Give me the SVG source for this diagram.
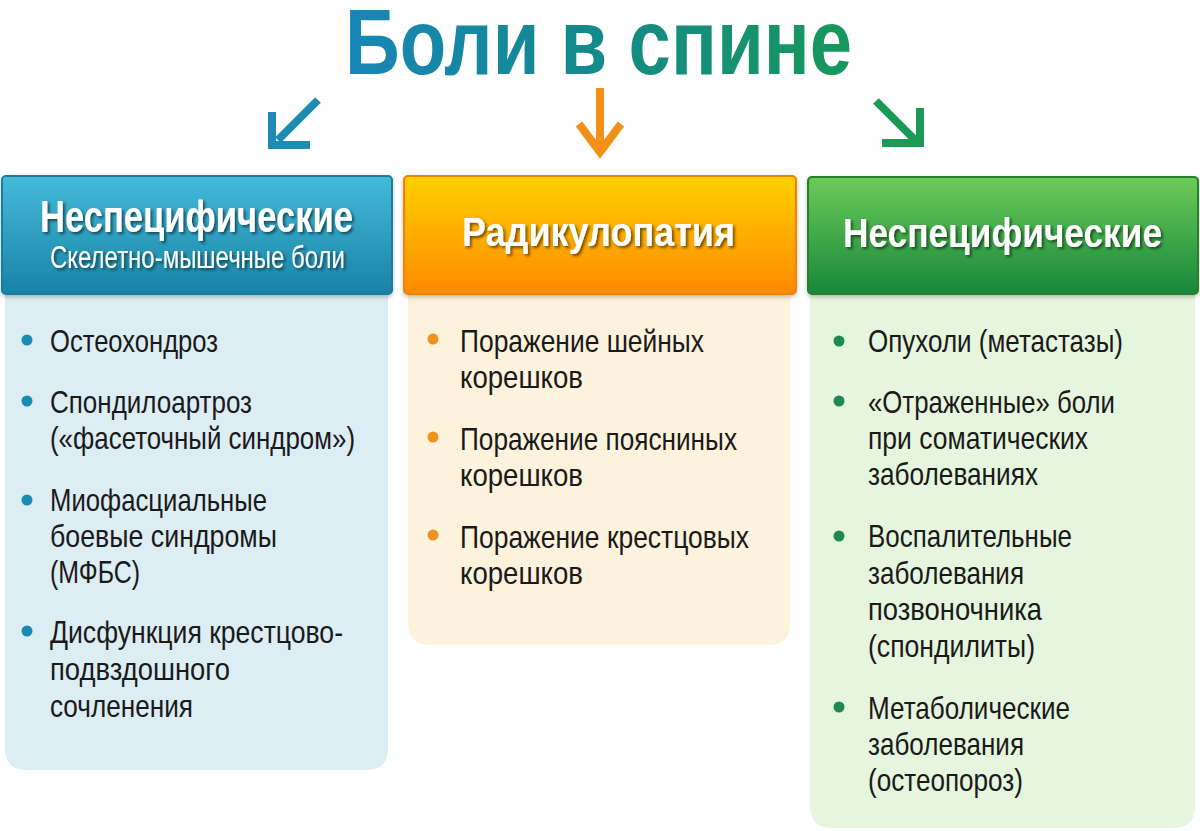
<svg xmlns="http://www.w3.org/2000/svg" width="1200" height="831" viewBox="0 0 1200 831">
<defs>
  <linearGradient id="gTitle" x1="0" y1="0" x2="1" y2="0">
    <stop offset="0" stop-color="#1786b8"/>
    <stop offset="0.5" stop-color="#148a8a"/>
    <stop offset="1" stop-color="#17985a"/>
  </linearGradient>
  <linearGradient id="gBlue" x1="0" y1="0" x2="0" y2="1">
    <stop offset="0" stop-color="#45bad9"/>
    <stop offset="1" stop-color="#1883a6"/>
  </linearGradient>
  <linearGradient id="gOrange" x1="0" y1="0" x2="0" y2="1">
    <stop offset="0" stop-color="#ffd000"/>
    <stop offset="1" stop-color="#ff8a00"/>
  </linearGradient>
  <linearGradient id="gGreen" x1="0" y1="0" x2="0" y2="1">
    <stop offset="0" stop-color="#6ccb58"/>
    <stop offset="1" stop-color="#17873c"/>
  </linearGradient>
  <filter id="tsh" x="-10%" y="-30%" width="120%" height="160%">
    <feDropShadow dx="2" dy="2" stdDeviation="1.5" flood-color="#000" flood-opacity="0.55"/>
  </filter>
  <filter id="bsh" x="-5%" y="-5%" width="110%" height="120%">
    <feDropShadow dx="0" dy="2" stdDeviation="2" flood-color="#000" flood-opacity="0.25"/>
  </filter>
</defs>
<style>
  .title{font-family:"Liberation Sans Narrow","Liberation Sans",sans-serif;font-weight:bold;font-size:92px}
  .hd{font-family:"Liberation Sans Narrow","Liberation Sans",sans-serif;font-weight:bold;fill:#fff}
  .sub{font-family:"Liberation Sans Narrow","Liberation Sans",sans-serif;fill:#fff;font-size:31px}
  .tx{font-family:"Liberation Sans Narrow","Liberation Sans",sans-serif;font-size:32px;fill:#1a1a1a}
  .arrow{fill:none;stroke-width:8;stroke-linejoin:miter;stroke-linecap:butt}
</style>
<rect width="1200" height="831" fill="#ffffff"/>

<g id="title">
  <text class="title" x="345" y="74" textLength="507" lengthAdjust="spacingAndGlyphs" fill="url(#gTitle)">Боли в спине</text>
</g>

<g id="connectors">
  <g class="arrow" stroke="#1c8cb4">
    <line x1="318" y1="100" x2="278" y2="140"/>
    <polyline points="272,112 272,145 310,145"/>
  </g>
  <g class="arrow" stroke="#f39019">
    <line x1="600" y1="88" x2="600" y2="150"/>
    <polyline points="579,124 600,152 621,124"/>
  </g>
  <g class="arrow" stroke="#1a9a57">
    <line x1="876" y1="101" x2="915" y2="140"/>
    <polyline points="920,108 920,143 882,143"/>
  </g>
</g>

<g id="node-left">
  <path d="M5,290 H388 V748 Q388,770 366,770 H27 Q5,770 5,748 Z" fill="#dcedf4"/>
  <rect x="2" y="176" width="390" height="118" rx="4" fill="url(#gBlue)" stroke="#1a7c9c" stroke-width="2" filter="url(#bsh)"/>
  <text class="hd" x="40" y="232" font-size="44" textLength="313" lengthAdjust="spacingAndGlyphs" filter="url(#tsh)">Неспецифические</text>
  <text class="sub" x="50" y="268" textLength="295" lengthAdjust="spacingAndGlyphs" filter="url(#tsh)">Скелетно-мышечные боли</text>
  <g fill="#1a8ab0">
    <circle cx="27" cy="340" r="5.5"/>
    <circle cx="27" cy="401" r="5.5"/>
    <circle cx="27" cy="500" r="5.5"/>
    <circle cx="27" cy="631" r="5.5"/>
  </g>
  <text class="tx" x="50" y="352" textLength="168" lengthAdjust="spacingAndGlyphs">Остеохондроз</text>
  <text class="tx" x="50" y="413" textLength="202" lengthAdjust="spacingAndGlyphs">Спондилоартроз</text>
  <text class="tx" x="50" y="449" textLength="305" lengthAdjust="spacingAndGlyphs">(«фасеточный синдром»)</text>
  <text class="tx" x="50" y="511" textLength="217" lengthAdjust="spacingAndGlyphs">Миофасциальные</text>
  <text class="tx" x="50" y="547" textLength="227" lengthAdjust="spacingAndGlyphs">боевые синдромы</text>
  <text class="tx" x="50" y="583" textLength="90" lengthAdjust="spacingAndGlyphs">(МФБС)</text>
  <text class="tx" x="50" y="643" textLength="293" lengthAdjust="spacingAndGlyphs">Дисфункция крестцово-</text>
  <text class="tx" x="50" y="680" textLength="180" lengthAdjust="spacingAndGlyphs">подвздошного</text>
  <text class="tx" x="50" y="717" textLength="143" lengthAdjust="spacingAndGlyphs">сочленения</text>
</g>

<g id="node-middle">
  <path d="M408,290 H790 V623 Q790,645 768,645 H430 Q408,645 408,623 Z" fill="#fdf2dc"/>
  <rect x="404" y="176" width="392" height="118" rx="4" fill="url(#gOrange)" stroke="#f08400" stroke-width="2" filter="url(#bsh)"/>
  <text class="hd" x="462" y="246" font-size="40" textLength="273" lengthAdjust="spacingAndGlyphs" filter="url(#tsh)">Радикулопатия</text>
  <g fill="#f0901e">
    <circle cx="433" cy="339" r="5.5"/>
    <circle cx="433" cy="437" r="5.5"/>
    <circle cx="433" cy="535" r="5.5"/>
  </g>
  <text class="tx" x="460" y="352" textLength="244" lengthAdjust="spacingAndGlyphs">Поражение шейных</text>
  <text class="tx" x="460" y="388" textLength="123" lengthAdjust="spacingAndGlyphs">корешков</text>
  <text class="tx" x="460" y="450" textLength="277" lengthAdjust="spacingAndGlyphs">Поражение поясниных</text>
  <text class="tx" x="460" y="486" textLength="123" lengthAdjust="spacingAndGlyphs">корешков</text>
  <text class="tx" x="460" y="548" textLength="289" lengthAdjust="spacingAndGlyphs">Поражение крестцовых</text>
  <text class="tx" x="460" y="584" textLength="123" lengthAdjust="spacingAndGlyphs">корешков</text>
</g>

<g id="node-right">
  <path d="M810,290 H1195 V806 Q1195,828 1173,828 H832 Q810,828 810,806 Z" fill="#e6f5dd"/>
  <rect x="808" y="177" width="390" height="117" rx="4" fill="url(#gGreen)" stroke="#2a7f2a" stroke-width="2" filter="url(#bsh)"/>
  <text class="hd" x="843" y="247" font-size="40" textLength="319" lengthAdjust="spacingAndGlyphs" filter="url(#tsh)">Неспецифические</text>
  <g fill="#1e8a50">
    <circle cx="839" cy="341" r="5.5"/>
    <circle cx="839" cy="401" r="5.5"/>
    <circle cx="839" cy="536" r="5.5"/>
    <circle cx="839" cy="707" r="5.5"/>
  </g>
  <text class="tx" x="868" y="352" textLength="255" lengthAdjust="spacingAndGlyphs">Опухоли (метастазы)</text>
  <text class="tx" x="868" y="413" textLength="247" lengthAdjust="spacingAndGlyphs">«Отраженные» боли</text>
  <text class="tx" x="868" y="449" textLength="220" lengthAdjust="spacingAndGlyphs">при соматических</text>
  <text class="tx" x="868" y="485" textLength="170" lengthAdjust="spacingAndGlyphs">заболеваниях</text>
  <text class="tx" x="868" y="547" textLength="204" lengthAdjust="spacingAndGlyphs">Воспалительные</text>
  <text class="tx" x="868" y="584" textLength="156" lengthAdjust="spacingAndGlyphs">заболевания</text>
  <text class="tx" x="868" y="620" textLength="174" lengthAdjust="spacingAndGlyphs">позвоночника</text>
  <text class="tx" x="868" y="657" textLength="167" lengthAdjust="spacingAndGlyphs">(спондилиты)</text>
  <text class="tx" x="868" y="719" textLength="202" lengthAdjust="spacingAndGlyphs">Метаболические</text>
  <text class="tx" x="868" y="755" textLength="156" lengthAdjust="spacingAndGlyphs">заболевания</text>
  <text class="tx" x="868" y="791" textLength="155" lengthAdjust="spacingAndGlyphs">(остеопороз)</text>
</g>
</svg>
